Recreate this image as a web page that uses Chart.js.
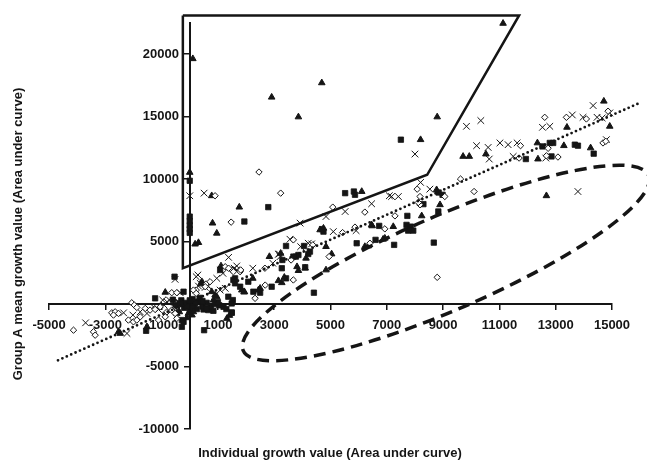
<!DOCTYPE html>
<html>
<head>
<meta charset="utf-8">
<script src="https://cdn.jsdelivr.net/npm/chart.js@4.4.0/dist/chart.umd.min.js"></script>
<style>
  html, body { margin: 0; padding: 0; background: #fff; }
  #wrap { width: 647px; height: 460px; }
</style>
</head>
<body>
<div id="wrap"><canvas id="growthChart" width="647" height="460"></canvas></div>
<script>
// Scatter values, [individual, group A mean]
const triangles = [
  [110,19640],[2910,16560],[4690,17710],[3860,14980],[11130,22470],[8790,14980],[8200,13160],[9710,11820],[9930,11820],[10520,12010],
  [0,10540],[190,4800],[310,4920],[1760,7760],[810,6480],[960,5670],[780,8670],[6110,9010],[14710,16240],[14920,14230],
  [13400,14150],[12350,12900],[13290,12680],[14240,12500],[12370,11610],[12670,8670],[8770,9150],[8890,7950],[8240,7060],[7230,6200],
  [6480,6260],[6870,5190],[6220,4600],[6340,4650],[4630,5940],[4750,6070],[5040,4010],[4130,3670],[3860,2680],[4100,2870],
  [3150,1870],[3270,1710],[3360,2140],[2830,3800],[3230,4060],[3810,2990],[4840,4600],[6930,5270],[1930,960],[2240,2060],
  [1850,1120],[1940,990],[2440,1120],[2500,1260],[4840,2730],[6460,6340],[1110,3050],[430,1790],[390,1610],[780,990],
  [900,720],[840,320],[960,590],[1320,-1150],[1410,-910],[-50,-750],[80,-880],[130,-620],[-460,-750],[-370,-620],
  [-870,940],[-2530,-2220],[-2470,-2350],[-1520,-1820],[-100,-1100]
];
const squares = [
  [7500,13160],[0,9870],[0,7000],[0,6650],[0,6300],[0,6000],[0,5700],[2790,7760],[1940,6610],[5520,8880],
  [5830,9010],[5870,8750],[11940,11610],[12530,12620],[12790,12900],[12910,12900],[13680,12760],[13790,12680],[14350,12040],[12850,11820],
  [8980,8750],[8840,8930],[8300,8000],[8830,7410],[7730,7060],[7700,6340],[7850,6200],[7820,5940],[7940,5880],[7760,5880],
  [6730,6260],[5930,4870],[6600,5140],[7260,4740],[8670,4920],[4750,5800],[4700,6000],[3420,4650],[3290,3530],[3770,3800],
  [3860,3930],[4060,4650],[4270,4200],[4100,2950],[3420,2060],[3270,2870],[2910,1390],[2260,990],[2500,910],[4410,910],
  [1490,-670],[2080,1790],[1610,1660],[1790,1390],[1550,1930],[1610,2060],[1370,590],[1530,320],[1080,2730],[-540,2190],
  [-220,990],[-1230,460],[-280,-1280],[-280,-1820],[-220,-1420],[510,-2090],[490,-430],[660,-480],[840,-540],[1200,-220],
  [1490,50],[1490,-700],[-1550,-2140],[3680,3800],[4210,4010],[-300,300],[-150,100],[0,0],[150,-100],[300,200],
  [450,-200],[100,400],[-200,-300],[600,100],[750,-150],[-450,-100],[250,-400],[0,-600],[900,0],[350,500],
  [-100,-200],[200,100],[450,250],[-350,50],[1050,-100],[1300,-400],[1000,150],[600,-350],[0,300],[-600,350],
  [100,-300]
];
const diamonds = [
  [2460,10570],[900,8670],[3230,8880],[5080,7760],[6220,7360],[1470,6560],[11750,12680],[11700,11690],[12610,14950],[13380,14950],
  [14090,14820],[14860,15440],[12730,12470],[14680,12900],[14780,13030],[13080,11770],[12670,11870],[8080,9200],[8180,8610],[9060,8610],
  [8180,7950],[8120,8130],[9620,10010],[10100,9010],[7290,7060],[6930,6020],[6400,4870],[8790,2140],[4950,3800],[5430,5720],
  [5870,6160],[3680,5140],[3600,3530],[4370,4740],[3680,1930],[2680,1520],[2320,460],[1790,2590],[1490,2730],[2670,2870],
  [1260,2990],[1380,2870],[1550,2590],[1810,2730],[580,1610],[230,1120],[720,1790],[550,1390],[130,1120],[230,860],
  [-640,910],[-460,910],[-2060,100],[-1970,-80],[-1880,-270],[-2770,-700],[-2650,-620],[-2530,-750],[-2710,-880],[-4130,-2090],
  [-3420,-2220],[-3360,-2490],[-2180,-1280],[-2000,-1420],[-1880,-1280],[-1760,-1020],[-1580,-350],[-1410,-480],[-1230,-430],[-1050,-220],
  [-810,-620],[-640,-480],[-520,-750],[-1110,-1280],[-870,-1020],[-460,-1150]
];
const crosses = [
  [0,8670],[510,8880],[8000,12010],[9830,14230],[10340,14690],[10190,12680],[10600,12540],[10640,11610],[11020,12900],[11310,12760],
  [11630,12900],[11490,11820],[12530,14150],[12790,14230],[13590,15140],[13970,14950],[14330,15890],[14470,14950],[14920,15300],[14800,13160],
  [12650,11690],[13790,9010],[8200,9740],[8530,9200],[7170,8610],[7410,8610],[3920,6480],[4840,7010],[5520,7410],[6460,8030],
  [7090,8670],[5100,5800],[5910,5880],[3560,5190],[3180,4010],[3940,4600],[4210,4870],[4330,4820],[2950,3270],[3150,3990],
  [3210,3800],[1380,3740],[2240,2870],[1670,2730],[960,2060],[1100,2730],[1180,2460],[1670,3050],[1580,2870],[230,2190],
  [290,2330],[310,1440],[550,1340],[660,1440],[370,1660],[610,1520],[1080,1120],[1260,1260],[-520,1980],[-340,910],
  [-960,320],[-810,180],[-720,320],[-2350,-700],[-3700,-1500],[-2230,-2350],[-2020,-880],[-1760,-620],[-1520,-750],[-1290,-220],
  [-1110,-430],[-910,-80],[-580,-220],[-400,-350],[14650,14900]
];

// axis ticks
const xTicks = [-5000, -3000, -1000, 1000, 3000, 5000, 7000, 9000, 11000, 13000, 15000];
const yTicks = [-10000, -5000, 0, 5000, 10000, 15000, 20000];

// dotted trend line end points
const trendLine = [[-4680,-4500],[16040,16160]];
// solid outline drawn round the upper outliers
const outlierBox = [[-245,23110],[11700,23110],[8435,10350],[-245,2865],[-245,23110]];
// dashed ellipse: centre and two conjugate half-axes, in data units
const ellipseCenter = [9100, 3290];
const ellipseU = [7200, 7015];
const ellipseV = [660, -3470];

const xTitle = 'Individual growth value (Area under curve)';
const yTitle = 'Group A mean growth value (Area under curve)';

const ink = '#151515';
const toXY = arr => arr.map(p => ({ x: p[0], y: p[1] }));
const fixTicks = list => axis => { axis.ticks = list.map(v => ({ value: v })); };

Chart.defaults.font.family = '"Liberation Sans", Arial, sans-serif';
Chart.defaults.color = ink;

const overlay = {
  id: 'overlay',
  afterDatasetsDraw(chart) {
    const { ctx, scales: { x, y } } = chart;
    const cx = x.getPixelForValue(ellipseCenter[0]);
    const cy = y.getPixelForValue(ellipseCenter[1]);
    const ux = x.getPixelForValue(ellipseCenter[0] + ellipseU[0]) - cx;
    const uy = y.getPixelForValue(ellipseCenter[1] + ellipseU[1]) - cy;
    const vx = x.getPixelForValue(ellipseCenter[0] + ellipseV[0]) - cx;
    const vy = y.getPixelForValue(ellipseCenter[1] + ellipseV[1]) - cy;
    ctx.save();
    ctx.save();
    ctx.transform(ux, uy, vx, vy, cx, cy);
    ctx.beginPath();
    ctx.arc(0, 0, 1, 0, Math.PI * 2);
    ctx.restore();
    ctx.setLineDash([12, 7]);
    ctx.lineWidth = 3.5;
    ctx.strokeStyle = ink;
    ctx.stroke();
    ctx.restore();
  },
  afterDraw(chart) {
    const { ctx } = chart;
    ctx.save();
    ctx.fillStyle = ink;
    ctx.textAlign = 'center';
    ctx.textBaseline = 'alphabetic';
    ctx.font = 'bold 13px "Liberation Sans", Arial, sans-serif';
    ctx.fillText(xTitle, 330, 457);
    ctx.translate(22, 234);
    ctx.rotate(-Math.PI / 2);
    ctx.fillText(yTitle, 0, 0);
    ctx.restore();
  }
};

new Chart(document.getElementById('growthChart'), {
  type: 'scatter',
  data: {
    datasets: [
      {
        label: 'Trend',
        data: toXY(trendLine),
        showLine: true,
        borderColor: ink,
        borderWidth: 2.8,
        borderDash: [0, 4.8],
        borderCapStyle: 'round',
        pointRadius: 0,
        clip: false
      },
      {
        label: 'Outliers',
        data: toXY(outlierBox),
        showLine: true,
        borderColor: ink,
        borderWidth: 2.5,
        borderJoinStyle: 'miter',
        pointRadius: 0,
        clip: false
      },
      {
        label: 'Diamonds',
        data: toXY(diamonds),
        pointStyle: 'rectRot',
        pointRadius: 3.2,
        backgroundColor: '#fff',
        borderColor: ink,
        borderWidth: 1,
        clip: false
      },
      {
        label: 'Crosses',
        data: toXY(crosses),
        pointStyle: 'crossRot',
        pointRadius: 4.7,
        borderColor: ink,
        borderWidth: 1,
        clip: false
      },
      {
        label: 'Triangles',
        data: toXY(triangles),
        pointStyle: 'triangle',
        pointRadius: 3.8,
        backgroundColor: ink,
        borderColor: ink,
        borderWidth: 1,
        clip: false
      },
      {
        label: 'Squares',
        data: toXY(squares),
        pointStyle: 'rect',
        pointRadius: 3.8,
        backgroundColor: ink,
        borderColor: ink,
        borderWidth: 0.8,
        clip: false
      }
    ]
  },
  options: {
    responsive: false,
    animation: false,
    layout: { padding: { left: 49, right: 35, top: 23, bottom: 31 } },
    plugins: { legend: { display: false }, tooltip: { enabled: false } },
    scales: {
      x: {
        type: 'linear',
        position: { y: 0 },
        min: -5000,
        max: 15000,
        bounds: 'data',
        afterBuildTicks: fixTicks(xTicks),
        border: { display: true, color: ink, width: 2 },
        grid: { drawOnChartArea: false, drawTicks: true, tickLength: 5, color: ink, lineWidth: 1.5 },
        ticks: { padding: 9, maxRotation: 0, autoSkip: false, callback: v => String(v),
                 font: { size: 13, weight: 'bold' }, color: ink }
      },
      y: {
        type: 'linear',
        position: { x: 0 },
        min: -10000,
        max: 22500,
        bounds: 'data',
        afterBuildTicks: fixTicks(yTicks),
        border: { display: true, color: ink, width: 2 },
        grid: { drawOnChartArea: false, drawTicks: true, tickLength: 5, color: ink, lineWidth: 1.5 },
        // centred y axis draws labels flush with the line, trailing spaces push them clear of the ticks
        ticks: { autoSkip: false, callback: v => String(v) + '   ',
                 font: { size: 13, weight: 'bold' }, color: ink }
      }
    }
  },
  plugins: [overlay]
});
</script>
</body>
</html>
